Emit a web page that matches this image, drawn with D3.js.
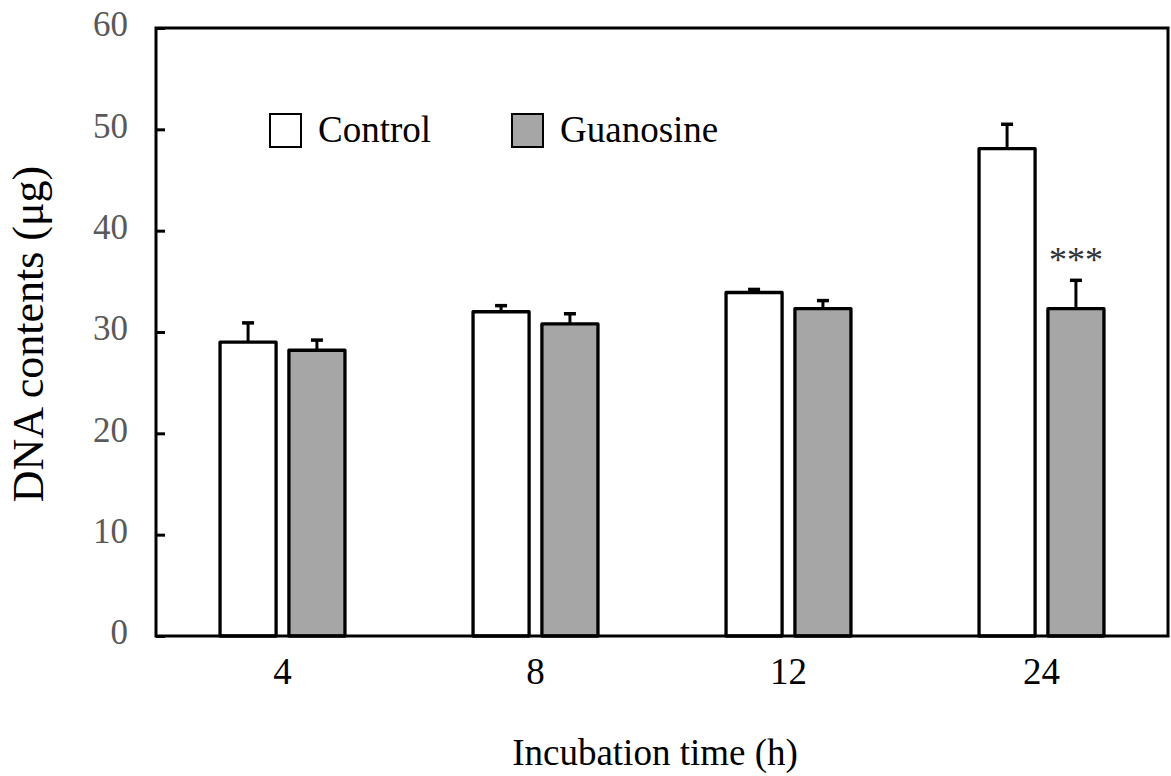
<!DOCTYPE html>
<html>
<head>
<meta charset="utf-8">
<script src="https://cdn.jsdelivr.net/npm/d3@7"></script>
<style>
  body { margin: 0; background: #fff; }
  svg text { font-family: "Liberation Serif", serif !important; }
</style>
</head>
<body>
<svg width="1171" height="776"></svg>
<script>
// data
var times = ["4", "8", "12", "24"];
var series = ["Control", "Guanosine"];
var controlVals = [29.0, 32.0, 33.9, 48.1];
var controlErr = [1.9, 0.6, 0.3, 2.4];
var guanVals = [28.2, 30.8, 32.3, 32.3];
var guanErr = [1.0, 1.0, 0.8, 2.8];
var yTicks = [0, 10, 20, 30, 40, 50, 60];
var colors = ["#ffffff", "#a6a6a6"];

var serif = "Liberation Serif, serif";

var svg = d3.select("svg"),
    margin = {top: 28, right: 3, bottom: 140, left: 156},
    w = +svg.attr("width") - margin.left - margin.right,
    h = +svg.attr("height") - margin.top - margin.bottom;

var xScale = d3.scaleBand().domain(times).range([0, w]).padding(0),
    xSub = d3.scaleBand().domain(series).range([0, xScale.bandwidth()])
      .paddingInner(0.186).paddingOuter(0.93),
    yScale = d3.scaleLinear().domain([0, 60]).range([h, 0]);

var g = svg.append("g")
    .attr("transform", "translate(" + margin.left + "," + margin.top + ")");

var rows = times.map(function(t, i) {
  return [
    {t: t, s: "Control", v: controlVals[i], e: controlErr[i]},
    {t: t, s: "Guanosine", v: guanVals[i], e: guanErr[i]}
  ];
});
var flat = d3.merge(rows);

function cx(d) { return xScale(d.t) + xSub(d.s) + xSub.bandwidth() / 2; }

// error bars (only the upper half shows above the bar)
var eb = g.selectAll(".err").data(flat).enter().append("g").attr("class", "err");
eb.append("line")
    .attr("x1", cx).attr("x2", cx)
    .attr("y1", function(d) { return yScale(d.v); })
    .attr("y2", function(d) { return yScale(d.v + d.e); })
    .attr("stroke", "#000").attr("stroke-width", 3);
eb.append("line")
    .attr("x1", function(d) { return cx(d) - 6; })
    .attr("x2", function(d) { return cx(d) + 6; })
    .attr("y1", function(d) { return yScale(d.v + d.e); })
    .attr("y2", function(d) { return yScale(d.v + d.e); })
    .attr("stroke", "#000").attr("stroke-width", 3.5);

g.selectAll(".bar")
  .data(flat)
  .enter().append("rect")
    .attr("class", "bar")
    .attr("x", function(d) { return xScale(d.t) + xSub(d.s); })
    .attr("y", function(d) { return yScale(d.v); })
    .attr("width", xSub.bandwidth())
    .attr("height", function(d) { return h - yScale(d.v); })
    .attr("fill", function(d) { return d.s === "Control" ? colors[0] : colors[1]; })
    .attr("stroke", "#000")
    .attr("stroke-width", 3.3)
    .attr("stroke-linejoin", "round");

// significance mark
g.append("text")
    .attr("x", xScale("24") + xSub("Guanosine") + xSub.bandwidth() / 2)
    .attr("y", yScale(guanVals[3] + guanErr[3]) - 8)
    .attr("text-anchor", "middle")
    .attr("font-family", serif)
    .attr("fill", "#333")
    .style("font-size", "36px")
    .text("***");

// frame
g.append("rect")
    .attr("width", w).attr("height", h)
    .attr("fill", "none").attr("stroke", "#000").attr("stroke-width", 3);

// y axis
var yAxis = g.append("g")
    .attr("class", "axis y-axis")
    .call(d3.axisLeft(yScale).tickValues(yTicks).tickSize(-9).tickPadding(28));
yAxis.attr("font-family", serif);
yAxis.select(".domain").remove();
yAxis.selectAll(".tick line").attr("stroke", "#000").attr("stroke-width", 3);
yAxis.selectAll(".tick text")
    .attr("font-family", serif)
    .attr("fill", "#595959")
    .attr("dy", "0.22em")
    .style("font-size", "35px");

// x axis
var xAxis = g.append("g")
    .attr("class", "axis x-axis")
    .attr("transform", "translate(0," + h + ")")
    .call(d3.axisBottom(xScale).tickSize(0).tickPadding(22));
xAxis.attr("font-family", serif);
xAxis.select(".domain").remove();
xAxis.selectAll(".tick text")
    .attr("font-family", serif)
    .attr("fill", "#000")
    .style("font-size", "37px");

svg.append("text")
    .attr("x", 655)
    .attr("y", 765)
    .attr("text-anchor", "middle")
    .attr("font-family", serif)
    .style("font-size", "37px")
    .text("Incubation time (h)");

svg.append("text")
    .attr("transform", "translate(43,334) rotate(-90)")
    .attr("text-anchor", "middle")
    .attr("font-family", serif)
    .style("font-size", "44px")
    .text("DNA contents (\u03bcg)");

// legend
var leg = svg.selectAll(".legend")
  .data(series)
  .enter().append("g")
    .attr("class", "legend")
    .attr("transform", function(d, i) { return "translate(" + (270 + i * 242) + ",114)"; });
leg.append("rect")
    .attr("width", 31).attr("height", 33)
    .attr("fill", function(d, i) { return colors[i]; })
    .attr("stroke", "#000").attr("stroke-width", 2);
leg.append("text")
    .attr("x", 48).attr("y", 28)
    .attr("font-family", serif)
    .style("font-size", "37px")
    .text(function(d) { return d; });
</script>
</body>
</html>
